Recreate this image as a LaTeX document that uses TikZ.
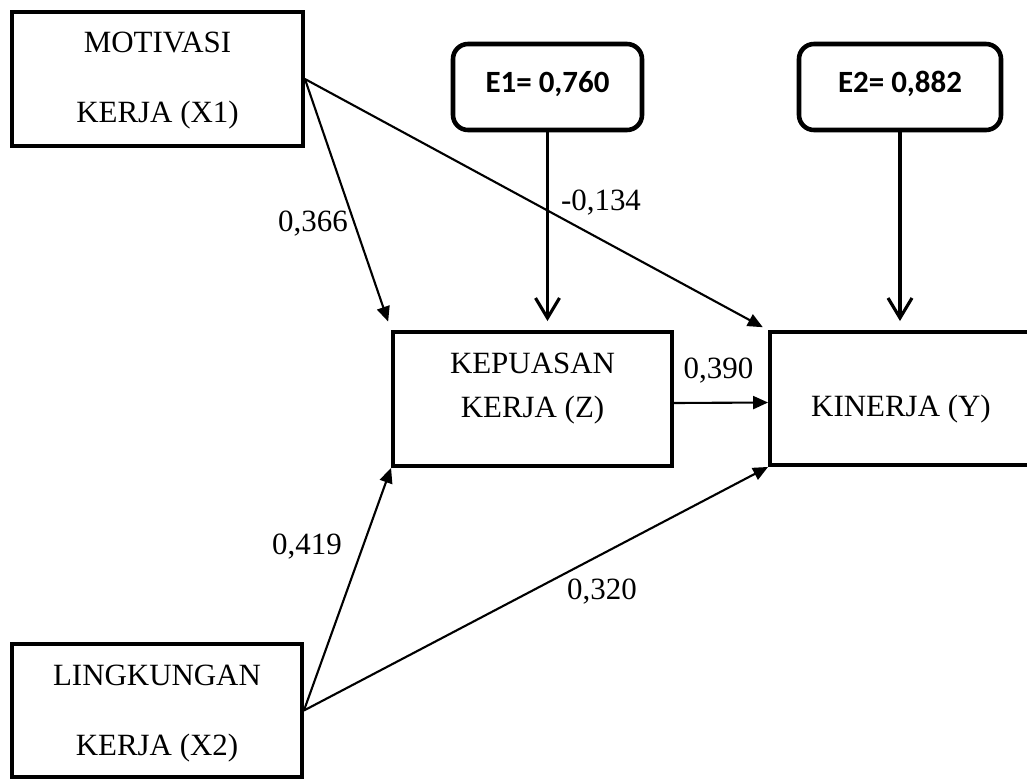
\documentclass[tikz,border=0pt]{standalone}
\usepackage{fontspec}
\setmainfont{Liberation Serif}
\newfontfamily\errfont{Carlito}
\usetikzlibrary{arrows.meta}

\tikzset{
  varbox/.style={draw, line width=1.1pt, inner sep=0pt, align=center,
    font=\fontsize{8.8}{12.5}\selectfont, text height=0.66cm, text depth=0.3cm},
  errbox/.style={draw, line width=1.3pt, rounded corners=0.15cm, inner sep=0pt,
    minimum height=0.86cm, font=\errfont\bfseries\fontsize{8.8}{10}\selectfont,
    text height=0.32cm, text depth=0.22cm},
  effect/.style={-{Triangle[length=0.15cm, width=0.13cm]}, line width=0.6pt},
  errarrow/.style={-{Straight Barb[length=0.2cm, width=0.24cm]}, line width=0.9pt, shorten >=0.09cm},
  coef/.style={font=\fontsize{8.8}{10}\selectfont, inner sep=0pt}
}

\begin{document}
\begin{tikzpicture}
    \useasboundingbox (0, 0) rectangle (10.27, -7.79);
    % variables
    \node[varbox, minimum width=2.91cm, minimum height=1.34cm, text height=1.08cm, text depth=0.21cm] (x1) at (1.575, -0.79) {MOTIVASI\\[0.26cm]KERJA (X1)};
    \node[varbox, minimum width=2.90cm, minimum height=1.33cm, text height=1.1cm, text depth=0.21cm] (x2) at (1.57, -7.105) {LINGKUNGAN\\[0.26cm]KERJA (X2)};
    \node[varbox, minimum width=2.79cm, minimum height=1.34cm] (z) at (5.325, -3.99) {KEPUASAN\\KERJA (Z)};
    \node[varbox, minimum width=2.62cm, minimum height=1.33cm] (y) at (9.01, -3.985) {KINERJA (Y)};
    % errors
    \node[errbox, minimum width=1.89cm] (e1) at (5.475, -0.87) {E1= 0,760};
    \node[errbox, minimum width=2.02cm] (e2) at (9.0, -0.87) {E2= 0,882};
    % paths
    \draw[effect, shorten >=0.09cm] (x1.east) -- (z.north west);
    \draw[effect, shorten >=0.06cm] (x1.east) -- (y.north west);
    \draw[effect] (x2.east) -- (z.south west);
    \draw[effect] (x2.east) -- (y.south west);
    \draw[effect] ([yshift=-0.04cm]z.east) -- ([yshift=-0.04cm]y.west);
    \draw[errarrow] (e1.south) -- (e1.south |- z.north);
    \draw[errarrow] (e2.south) -- (e2.south |- y.north);
    % coefficients
    \node[coef] (b1) at (3.13, -2.24) {0,366};
    \node[coef] (b2) at (6.01, -2.03) {-0,134};
    \node[coef] (b3) at (3.07, -5.47) {0,419};
    \node[coef] (b4) at (6.02, -5.92) {0,320};
    \node[coef] (b5) at (7.185, -3.71) {0,390};
\end{tikzpicture}
\end{document}
